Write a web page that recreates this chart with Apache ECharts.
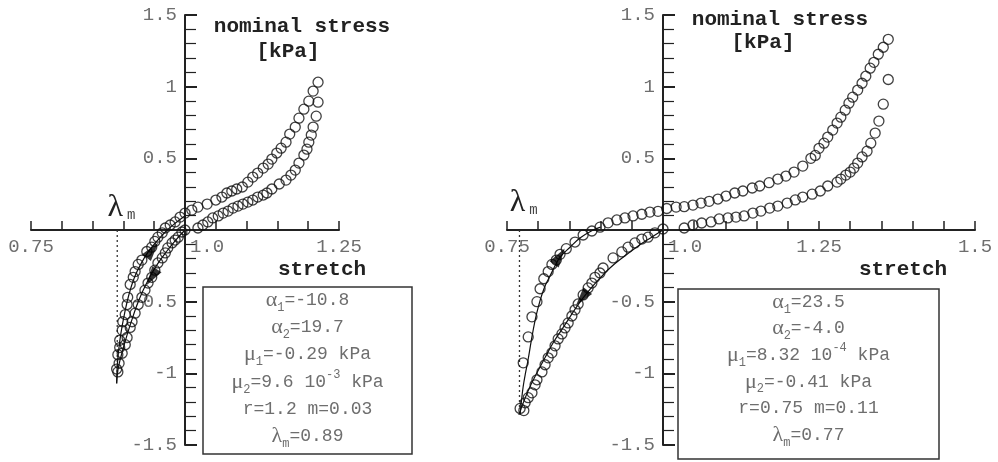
<!DOCTYPE html>
<html>
<head>
<meta charset="utf-8">
<script src="https://cdn.jsdelivr.net/npm/echarts@6/dist/echarts.min.js"></script>
<style>
  html, body { margin: 0; padding: 0; background: #fff; }
  #chart { width: 998px; height: 462px; }
</style>
</head>
<body>
<div id="chart"></div>
<script>
// ---------- data: nominal stress [kPa] vs stretch, two loading cycles ----------

// Panel 1: stretch range 0.75 - 1.25
const p1Upper = [
  [0.889,-0.97],[0.891,-0.87],[0.894,-0.82],[0.894,-0.77],[0.898,-0.70],[0.899,-0.64],
  [0.903,-0.59],[0.906,-0.52],[0.907,-0.47],[0.911,-0.38],[0.916,-0.33],[0.919,-0.29],
  [0.924,-0.24],[0.930,-0.21],[0.938,-0.15],[0.946,-0.12],[0.951,-0.08],[0.956,-0.05],
  [0.963,-0.02],[0.968,0.014],[0.976,0.035],[0.984,0.056],[0.992,0.09],
  [1.000,0.118],[1.011,0.139],[1.021,0.160],[1.036,0.181],[1.050,0.209],[1.060,0.230],
  [1.068,0.258],[1.076,0.272],[1.084,0.286],[1.093,0.300],[1.102,0.334],[1.110,0.369],
  [1.118,0.397],[1.127,0.432],[1.135,0.460],[1.141,0.495],[1.149,0.537],[1.156,0.571],
  [1.164,0.613],[1.170,0.669],[1.179,0.718],[1.185,0.780],[1.193,0.843],[1.201,0.899],
  [1.208,0.969],[1.216,1.031]
];
const p1Lower = [
  [1.216,0.892],[1.213,0.794],[1.208,0.718],[1.205,0.662],[1.201,0.613],[1.198,0.564],
  [1.193,0.523],[1.185,0.467],[1.179,0.418],[1.172,0.383],[1.164,0.348],[1.153,0.321],
  [1.141,0.286],[1.133,0.258],[1.127,0.244],[1.118,0.230],[1.110,0.209],[1.102,0.195],
  [1.094,0.181],[1.086,0.167],[1.078,0.153],[1.070,0.132],[1.062,0.118],[1.054,0.098],
  [1.045,0.084],[1.037,0.056],[1.029,0.035],[1.021,0.014],[1.000,0.000],
  [0.995,-0.014],[0.989,-0.05],[0.984,-0.07],[0.979,-0.09],[0.972,-0.125],[0.968,-0.16],
  [0.963,-0.195],[0.956,-0.23],[0.951,-0.28],[0.946,-0.33],[0.940,-0.37],[0.935,-0.42],
  [0.930,-0.47],[0.924,-0.52],[0.919,-0.58],[0.914,-0.64],[0.911,-0.68],[0.906,-0.75],
  [0.903,-0.80],[0.898,-0.86],[0.893,-0.93],[0.891,-0.99]
];
const p1FitUnload = [
  [0.889,-1.07],[0.890,-0.95],[0.892,-0.85],[0.896,-0.72],[0.902,-0.58],[0.909,-0.45],
  [0.918,-0.33],[0.928,-0.24],[0.940,-0.155],[0.955,-0.075],[0.970,-0.005],[0.985,0.05],[1.000,0.10]
];
const p1FitLoad = [
  [1.000,0.000],[0.985,-0.07],[0.970,-0.15],[0.955,-0.24],[0.940,-0.35],[0.925,-0.49],
  [0.912,-0.65],[0.902,-0.79],[0.895,-0.90],[0.891,-0.98],[0.889,-1.07]
];
// each arrow: [from, to] along the fitted curve, head drawn at "to"
const p1Arrows = [
  [[0.938,-0.19],[0.947,-0.14]],
  [[0.955,-0.27],[0.946,-0.33]]
];
const p1LambdaM = 0.89;
const p1LambdaStress = -1.0;
const p1Params = [
  '{g|α}{s|1}{t|=-10.8}',
  '{g|α}{s|2}{t|=19.7}',
  '{g|μ}{s|1}{t|=-0.29 kPa}',
  '{g|μ}{s|2}{t|=9.6 10}{p|-3}{t| kPa}',
  '{t|r=1.2 m=0.03}',
  '{g|λ}{s|m}{t|=0.89}'
];

// Panel 2: stretch range 0.75 - 1.5
const p2Upper = [
  [0.771,-1.245],[0.776,-0.927],[0.784,-0.746],[0.790,-0.606],[0.798,-0.50],[0.803,-0.41],
  [0.809,-0.34],[0.816,-0.29],[0.822,-0.24],[0.829,-0.21],[0.835,-0.17],[0.845,-0.13],
  [0.859,-0.084],[0.872,-0.035],[0.886,-0.007],[0.899,0.02],[0.912,0.05],[0.926,0.07],
  [0.939,0.084],[0.952,0.098],[0.966,0.11],[0.979,0.125],[0.992,0.13],
  [1.006,0.150],[1.021,0.160],[1.034,0.163],[1.048,0.174],[1.061,0.188],[1.074,0.200],
  [1.088,0.216],[1.101,0.237],[1.115,0.258],[1.128,0.272],[1.143,0.293],[1.155,0.307],
  [1.170,0.330],[1.184,0.355],[1.197,0.376],[1.210,0.404],[1.224,0.446],[1.237,0.500],
  [1.244,0.520],[1.250,0.570],[1.258,0.606],[1.264,0.648],[1.272,0.697],[1.279,0.746],
  [1.285,0.787],[1.292,0.836],[1.298,0.885],[1.304,0.927],[1.312,0.976],[1.319,1.024],
  [1.325,1.073],[1.332,1.129],[1.338,1.170],[1.345,1.226],[1.353,1.275],[1.361,1.330]
];
const p2Lower = [
  [1.361,1.050],[1.353,0.878],[1.346,0.760],[1.340,0.676],[1.333,0.606],[1.327,0.550],
  [1.319,0.510],[1.312,0.467],[1.306,0.432],[1.300,0.404],[1.293,0.383],[1.285,0.355],
  [1.279,0.334],[1.264,0.307],[1.252,0.272],[1.239,0.250],[1.224,0.230],[1.212,0.210],
  [1.199,0.188],[1.184,0.167],[1.171,0.153],[1.157,0.132],[1.144,0.118],[1.130,0.098],
  [1.117,0.090],[1.104,0.084],[1.090,0.077],[1.077,0.056],[1.062,0.049],[1.048,0.035],
  [1.034,0.014],[1.000,0.007],
  [0.987,-0.02],[0.976,-0.05],[0.966,-0.063],[0.955,-0.09],[0.944,-0.12],[0.934,-0.153],
  [0.920,-0.195],[0.904,-0.265],[0.899,-0.30],[0.891,-0.33],[0.886,-0.37],[0.880,-0.404],
  [0.872,-0.453],[0.864,-0.516],[0.859,-0.557],[0.854,-0.60],[0.848,-0.648],[0.843,-0.683],
  [0.838,-0.725],[0.832,-0.76],[0.827,-0.808],[0.822,-0.857],[0.816,-0.892],[0.811,-0.94],
  [0.806,-0.99],[0.798,-1.045],[0.795,-1.08],[0.790,-1.136],[0.784,-1.17],[0.779,-1.206],
  [0.777,-1.26]
];
const p2FitUnload = [
  [0.771,-1.29],[0.773,-1.20],[0.776,-1.09],[0.780,-0.99],[0.784,-0.90],[0.789,-0.77],
  [0.795,-0.63],[0.800,-0.54],[0.806,-0.45],[0.812,-0.38],[0.819,-0.32],[0.827,-0.25],
  [0.835,-0.19],[0.851,-0.12],[0.867,-0.056],[0.888,0.0],[0.900,0.02]
];
const p2FitLoad = [
  [1.000,0.000],[0.980,-0.055],[0.958,-0.118],[0.936,-0.19],[0.915,-0.265],[0.896,-0.35],
  [0.878,-0.44],[0.864,-0.52],[0.851,-0.606],[0.837,-0.70],[0.824,-0.787],[0.811,-0.89],
  [0.798,-0.996],[0.786,-1.10],[0.776,-1.206],[0.769,-1.29]
];
const p2Arrows = [
  [[0.824,-0.25],[0.834,-0.185]],
  [[0.880,-0.420],[0.870,-0.475]]
];
const p2LambdaM = 0.77;
const p2LambdaStress = -1.25;
const p2Params = [
  '{g|α}{s|1}{t|=23.5}',
  '{g|α}{s|2}{t|=-4.0}',
  '{g|μ}{s|1}{t|=8.32 10}{p|-4}{t| kPa}',
  '{g|μ}{s|2}{t|=-0.41 kPa}',
  '{t|r=0.75 m=0.11}',
  '{g|λ}{s|m}{t|=0.77}'
];

const yTitle = ['nominal stress', '[kPa]'];
const xTitle = 'stretch';

// ---------- styling ----------
const MONO = "'Courier New','Liberation Mono',monospace";
const SERIF = "'Times New Roman','Liberation Serif',serif";
const INK = '#222';
const GREY = '#6e6e6e';
const Y_MIN = -1.5, Y_MAX = 1.5;

const panels = [
  { xMin: 0.75, xMax: 1.25, left: 31, width: 308, top: 15, height: 430,
    upper: p1Upper, lower: p1Lower, fitU: p1FitUnload, fitL: p1FitLoad, arrows: p1Arrows,
    lambda: p1LambdaM, lambdaY: p1LambdaStress, lambdaDy: -22,
    params: p1Params, box: { x: 203, y: 287, w: 209, h: 167 }, paramTop: 300, paramStep: 27.3,
    titleDx: 117, titleY: 27, unitDx: 103, unitY: 52, xTitlePos: [322, 270] },
  { xMin: 0.75, xMax: 1.5, left: 507, width: 468, top: 15, height: 430,
    upper: p2Upper, lower: p2Lower, fitU: p2FitUnload, fitL: p2FitLoad, arrows: p2Arrows,
    lambda: p2LambdaM, lambdaY: p2LambdaStress, lambdaDy: -27,
    params: p2Params, box: { x: 678, y: 289, w: 261, h: 170 }, paramTop: 302, paramStep: 26.6,
    titleDx: 117, titleY: 20, unitDx: 100, unitY: 43, xTitlePos: [903, 270] }
];

const grids = [], xAxes = [], yAxes = [], series = [], graphics = [];
const dataGrid = [];

const axisLineStyle = { color: INK, width: 2 };

panels.forEach((p, i) => {
  const g0 = grids.length;
  dataGrid.push(g0);
  const axisX = p.left + (1 - p.xMin) / (p.xMax - p.xMin) * p.width;       // pixel column of stretch = 1
  const axisY = p.top + (Y_MAX - 0) / (Y_MAX - Y_MIN) * p.height;          // pixel row of stress = 0
  // g0: plotting area, g0+1: stress axis at stretch 1, g0+2: stretch axis at stress 0
  grids.push({ left: p.left, top: p.top, width: p.width, height: p.height });
  grids.push({ left: axisX, top: p.top, width: p.left + p.width - axisX, height: p.height });
  grids.push({ left: p.left, top: p.top, width: p.width, height: axisY - p.top });

  xAxes.push({ gridIndex: g0, type: 'value', show: false, min: p.xMin, max: p.xMax });
  xAxes.push({ gridIndex: g0 + 1, type: 'value', show: false, min: 0, max: 1 });
  xAxes.push({
    gridIndex: g0 + 2, type: 'value', position: 'bottom', min: p.xMin, max: p.xMax, interval: 0.05,
    axisLine: { show: true, onZero: false, lineStyle: axisLineStyle },
    axisTick: { show: true, inside: true, length: 9, lineStyle: { color: INK, width: 1.5 } },
    splitLine: { show: false },
    axisLabel: {
      margin: 7,
      formatter: v => {
        if (Math.abs(v - 1) < 1e-6) return '{s|1.0}';
        if (Math.abs(v * 4 - Math.round(v * 4)) < 1e-6) return '{n|' + (+v.toFixed(2)) + '}';
        return '';
      },
      rich: {
        n: { fontFamily: MONO, fontSize: 19, color: GREY },
        s: { fontFamily: MONO, fontSize: 19, color: GREY, padding: [0, 0, 0, 44] }
      }
    }
  });

  yAxes.push({ gridIndex: g0, type: 'value', show: false, min: Y_MIN, max: Y_MAX });
  yAxes.push({
    gridIndex: g0 + 1, type: 'value', position: 'left', min: Y_MIN, max: Y_MAX, interval: 0.5,
    axisLine: { show: true, onZero: false, lineStyle: axisLineStyle },
    axisTick: { show: true, inside: true, length: 12, lineStyle: { color: INK, width: 2 } },
    minorTick: { show: true, splitNumber: 5, length: 11, lineStyle: { color: INK, width: 1.2 } },
    splitLine: { show: false },
    minorSplitLine: { show: false },
    axisLabel: {
      margin: 8, fontFamily: MONO, fontSize: 19, color: GREY,
      formatter: v => (Math.abs(v) < 1e-9 ? '' : String(+v.toFixed(2)))
    }
  });
  yAxes.push({ gridIndex: g0 + 2, type: 'value', show: false, min: 0, max: 1 });

  const ax = { xAxisIndex: g0, yAxisIndex: g0 };

  // dotted marker at the minimum stretch
  series.push(Object.assign({
    type: 'line', data: [[p.lambda, 0], [p.lambda, p.lambdaY]], symbol: 'none', silent: true,
    lineStyle: { color: '#333', width: 1.3, type: [2, 3] }, z: 2
  }, ax));

  // fitted model curves
  [p.fitU, p.fitL].forEach(d => series.push(Object.assign({
    type: 'line', data: d, symbol: 'none', smooth: 0.4, silent: true,
    lineStyle: { color: '#111', width: 1.2 }, z: 3
  }, ax)));

  // measured points
  [p.upper, p.lower].forEach(d => series.push(Object.assign({
    type: 'scatter', data: d, symbol: 'circle', symbolSize: 10, silent: true, z: 5,
    itemStyle: { color: 'rgba(0,0,0,0)', borderColor: '#111', borderWidth: 1.3 }
  }, ax)));

  // arrow heads showing the loading direction
  const pxX = p.width / (p.xMax - p.xMin);
  const pxY = p.height / (Y_MAX - Y_MIN);
  series.push(Object.assign({
    type: 'scatter', silent: true, z: 6,
    symbol: 'path://M0,0L5,14L-5,14Z', symbolSize: [11, 19], symbolKeepAspect: false,
    itemStyle: { color: '#000' },
    data: p.arrows.map(([a, b]) => {
      const ang = Math.atan2((b[1] - a[1]) * pxY, (b[0] - a[0]) * pxX) * 180 / Math.PI;
      return { value: b, symbolRotate: ang - 90 };
    })
  }, ax));

  // axis titles
  const titleStyle = { font: 'bold 21px ' + MONO, fill: INK,
    align: 'center', verticalAlign: 'middle', textAlign: 'center', textVerticalAlign: 'middle' };
  graphics.push({ type: 'text', x: axisX + p.titleDx, y: p.titleY, silent: true,
    style: Object.assign({ text: yTitle[0] }, titleStyle) });
  graphics.push({ type: 'text', x: axisX + p.unitDx, y: p.unitY, silent: true,
    style: Object.assign({ text: yTitle[1] }, titleStyle) });
  graphics.push({ type: 'text', x: p.xTitlePos[0], y: p.xTitlePos[1], silent: true,
    style: Object.assign({ text: xTitle }, titleStyle) });

  // parameter box
  graphics.push({
    type: 'rect', silent: true,
    shape: { x: p.box.x, y: p.box.y, width: p.box.w, height: p.box.h },
    style: { fill: '#fff', stroke: '#333', lineWidth: 1.5 }, z: 10
  });
  p.params.forEach((line, k) => {
    graphics.push({
      type: 'text', silent: true, z: 11,
      x: p.box.x + p.box.w / 2, y: p.paramTop + k * p.paramStep,
      style: {
        text: line, align: 'center', verticalAlign: 'middle',
        textAlign: 'center', textVerticalAlign: 'middle',
        rich: {
          t: { fontFamily: MONO, fontSize: 18, fill: GREY, color: GREY, lineHeight: 27 },
          g: { fontFamily: SERIF, fontSize: 22, fill: GREY, color: GREY, lineHeight: 27 },
          s: { fontFamily: MONO, fontSize: 12, fill: GREY, color: GREY, verticalAlign: 'bottom', lineHeight: 10 },
          p: { fontFamily: MONO, fontSize: 12, fill: GREY, color: GREY, verticalAlign: 'top', lineHeight: 11 }
        }
      }
    });
  });
});

const chart = echarts.init(document.getElementById('chart'), null, { renderer: 'canvas' });
chart.setOption({
  animation: false,
  backgroundColor: '#fff',
  grid: grids,
  xAxis: xAxes,
  yAxis: yAxes,
  series: series
});

// λm labels, placed from the stretch scale once the axes exist
panels.forEach((p, i) => {
  const [px, py] = chart.convertToPixel({ gridIndex: dataGrid[i] }, [p.lambda, 0]);
  graphics.push({
    type: 'text', silent: true, z: 12, x: px - 2, y: py + p.lambdaDy,
    style: { text: 'λ', font: '32px ' + SERIF, fill: INK,
             align: 'center', verticalAlign: 'middle', textAlign: 'center', textVerticalAlign: 'middle' }
  });
  graphics.push({
    type: 'text', silent: true, z: 12, x: px + 14, y: py + p.lambdaDy + 7,
    style: { text: 'm', font: '14px ' + MONO, fill: '#444',
             align: 'center', verticalAlign: 'middle', textAlign: 'center', textVerticalAlign: 'middle' }
  });
});

chart.setOption({ graphic: { elements: graphics } });
</script>
</body>
</html>
